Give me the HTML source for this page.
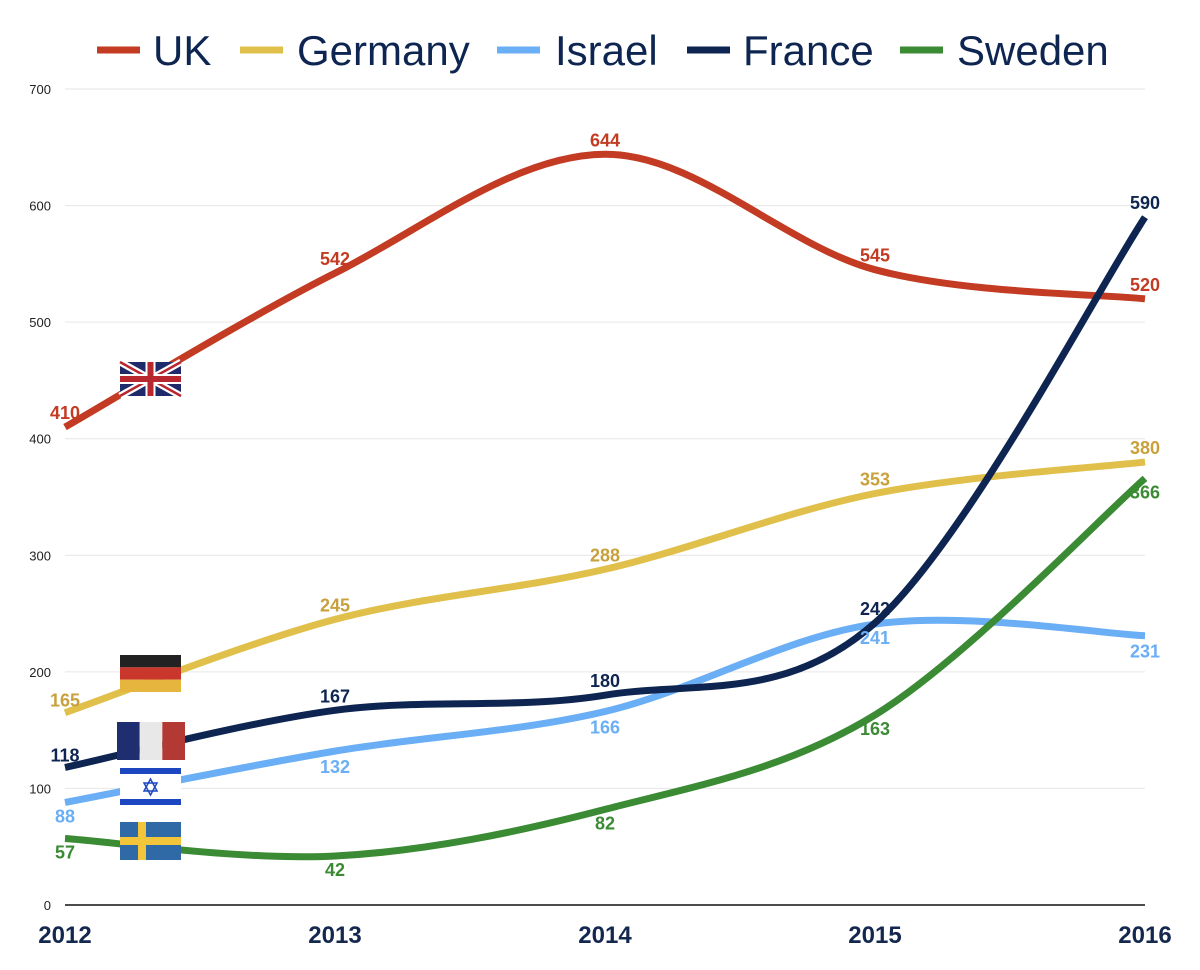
<!DOCTYPE html>
<html><head><meta charset="utf-8"><style>
body{margin:0;background:#fff;}
svg{display:block;font-family:"Liberation Sans",Arial,sans-serif;}
</style></head><body>
<svg id="chart" width="1200" height="970" xmlns="http://www.w3.org/2000/svg"></svg>
<script>
const years = ['2012','2013','2014','2015','2016'];
const ukValues = [410, 542, 644, 545, 520];
const germanyValues = [165, 245, 288, 353, 380];
const israelValues = [88, 132, 166, 241, 231];
const franceValues = [118, 167, 180, 242, 590];
const swedenValues = [57, 42, 82, 163, 366];
const yTicks = [0,100,200,300,400,500,600,700];
const seriesNames = ['UK','Germany','Israel','France','Sweden'];

const NS='http://www.w3.org/2000/svg';
const svg=document.getElementById('chart');
const x0=65,x1=1145,y0=905,y1=89,ymax=700;
const xs=i=>x0+i*(x1-x0)/(years.length-1);
const ys=v=>y0-v*(y0-y1)/ymax;
function mk(tag,attrs,parent){const e=document.createElementNS(NS,tag);for(const k in attrs)e.setAttribute(k,attrs[k]);(parent||svg).appendChild(e);return e;}

yTicks.forEach(t=>{
  if(t>0){const g=mk('line',{x1:x0,x2:x1,y1:ys(t),y2:ys(t),stroke:'#e6e6e6','stroke-width':1});
  
  }
  const tx=mk('text',{x:51,y:ys(t)+5,'text-anchor':'end','font-size':13,fill:'#222'});
  tx.textContent=t;
  
  
});
const ax=mk('line',{x1:x0,x2:x1,y1:y0,y2:y0,stroke:'#111','stroke-width':1.5});


years.forEach((y,i)=>{
  const t=mk('text',{x:xs(i),y:943,'text-anchor':'middle','font-size':24,'font-weight':'bold',fill:'#14284f'});
  t.textContent=y;
  
  
});

const series=[
 {name:'uk',vals:ukValues,color:'#c23b22',label:'#c23b22',pos:[-8,-8,-8,-8,-8]},
 {name:'germany',vals:germanyValues,color:'#e0c04a',label:'#c9a13c',pos:[-6,-8,-8,-8,-8]},
 {name:'israel',vals:israelValues,color:'#6aaef5',label:'#6aaef5',pos:[20,22,22,20,22]},
 {name:'france',vals:franceValues,color:'#0d2550',label:'#0d2550',pos:[-6,-8,-8,-8,-8]},
 {name:'sweden',vals:swedenValues,color:'#3b8a34',label:'#3b8a34',pos:[20,20,20,20,20]}
];
function path(vals){
  const p=vals.map((v,i)=>[xs(i),ys(v)]);
  let d='M'+p[0][0]+','+p[0][1];
  for(let i=0;i<p.length-1;i++){
    const a=p[Math.max(i-1,0)],b=p[i],c=p[i+1],e=p[Math.min(i+2,p.length-1)];
    const t=0.5/3*2;
    const c1=[b[0]+(c[0]-a[0])/6,b[1]+(c[1]-a[1])/6];
    const c2=[c[0]-(e[0]-b[0])/6,c[1]-(e[1]-b[1])/6];
    d+=' C'+c1+' '+c2+' '+c;
  }
  return d;
}
series.forEach(s=>{
  const p=mk('path',{d:path(s.vals),fill:'none',stroke:s.color,'stroke-width':7});
  
  
});

// flags
function flag(name,x,y,w,h,draw){const g=mk('g',{transform:`translate(${x},${y})`});draw(g,w,h);}
flag('uk-flag',120,362,61,34,(g,w,h)=>{
  mk('rect',{width:w,height:h,fill:'#1f2a6b'},g);
  mk('path',{d:`M0,0L${w},${h}M${w},0L0,${h}`,stroke:'#fff','stroke-width':7},g);
  mk('path',{d:`M0,0L${w},${h}M${w},0L0,${h}`,stroke:'#b8262e','stroke-width':2.5},g);
  mk('path',{d:`M${w/2},0V${h}M0,${h/2}H${w}`,stroke:'#fff','stroke-width':10},g);
  mk('path',{d:`M${w/2},0V${h}M0,${h/2}H${w}`,stroke:'#b8262e','stroke-width':6},g);
});
flag('germany-flag',120,655,61,37,(g,w,h)=>{
  mk('rect',{width:w,height:h/3,fill:'#222'},g);
  mk('rect',{y:h/3,width:w,height:h/3,fill:'#c9362b'},g);
  mk('rect',{y:2*h/3,width:w,height:h/3,fill:'#e6b53e'},g);
});
flag('france-flag',117,722,68,38,(g,w,h)=>{
  mk('rect',{width:w/3,height:h,fill:'#1e2e6e'},g);
  mk('rect',{x:w/3,width:w/3,height:h,fill:'#e8e8e8'},g);
  mk('rect',{x:2*w/3,width:w/3,height:h,fill:'#b33a34'},g);
});
flag('israel-flag',120,768,61,37,(g,w,h)=>{
  mk('rect',{width:w,height:h,fill:'#fff'},g);
  mk('rect',{y:0,width:w,height:6,fill:'#1d47c0'},g);
  mk('rect',{y:h-6,width:w,height:6,fill:'#1d47c0'},g);
  mk('path',{d:'M30.5,11L37,23H24Z M30.5,27L24,15H37Z',fill:'none',stroke:'#1d47c0','stroke-width':1.5},g);
});
flag('sweden-flag',120,822,61,38,(g,w,h)=>{
  mk('rect',{width:w,height:h,fill:'#2f6aa6'},g);
  mk('rect',{x:18,width:8,height:h,fill:'#f2c53a'},g);
  mk('rect',{y:15,width:w,height:8,fill:'#f2c53a'},g);
});

series.forEach(s=>{
  s.vals.forEach((v,i)=>{
    const t=mk('text',{x:xs(i),y:ys(v)+s.pos[i],'text-anchor':'middle','font-size':18,'font-weight':'bold',fill:s.label});
    t.textContent=v;
    
    
  });
});

// legend
const legendX=[[97,153],[240,297],[497,555],[687,743],[900,957]];
series.forEach((s,i)=>{
  const g=mk('g',{});
  
  
  mk('line',{x1:legendX[i][0],x2:legendX[i][0]+43,y1:50,y2:50,stroke:s.color,'stroke-width':7},g);
  const t=mk('text',{x:legendX[i][1],y:65,'font-size':42,fill:'#0d2550'},g);
  t.textContent=seriesNames[i];
});
</script>
</body></html>
